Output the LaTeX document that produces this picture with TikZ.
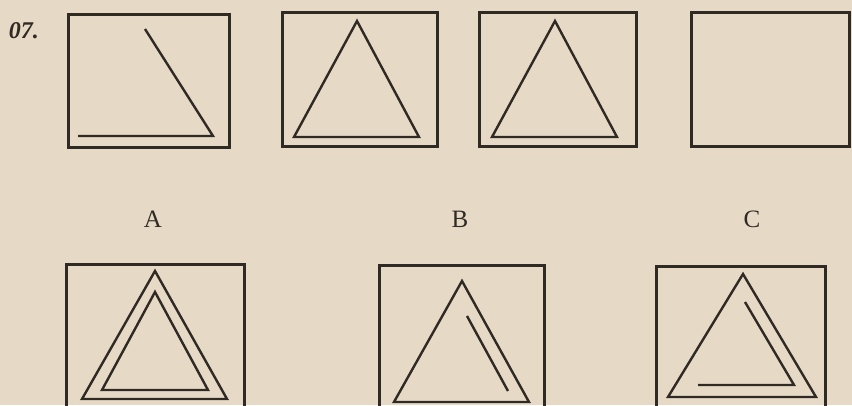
\documentclass[tikz,border=0pt]{standalone}
\usepackage{fontspec}
\setmainfont{Liberation Serif}
\begin{document}
\begin{tikzpicture}[x=1pt,y=-1pt,
  ink/.style={draw=inkc,line width=3pt,line join=miter},
  fig/.style={draw=inkc,line width=2.4pt,line join=miter},
  lbl/.style={font=\fontsize{25}{28}\selectfont,text=inkc,inner sep=0pt},
  num/.style={font=\fontsize{24}{26}\selectfont\bfseries\itshape,text=inkc,inner sep=0pt}]
\definecolor{paper}{RGB}{230,218,198}
\definecolor{inkc}{RGB}{48,42,36}
\useasboundingbox (0,0) rectangle (852,405);
\clip (0,0) rectangle (852,405);
\fill[paper] (0,0) rectangle (852,405);
% number
\node[num] (n) at (24,31) {07.};
% top row
\draw[ink] (68,14) rectangle (229,147);
\coordinate (a1) at (145,29);
\coordinate (a2) at (213,136);
\coordinate (a3) at (78,136);
\draw[fig] (a1) -- (a2) -- (a3);
\draw[ink] (282,12) rectangle (437,146);
\draw[fig] (357,21) -- (419,137) -- (294,137) -- cycle;
\draw[ink] (479,12) rectangle (636,146);
\draw[fig] (555,21) -- (617,137) -- (492,137) -- cycle;
\draw[ink] (691,12) rectangle (849,146);
% labels
\node[lbl] (A) at (153,219) {A};
\node[lbl] (B) at (460,219) {B};
\node[lbl] (C) at (752,219) {C};
% bottom row
\draw[ink] (66,264) rectangle (244,420);
\draw[fig] (155,271) -- (227,399) -- (82,399) -- cycle;
\draw[fig] (155,292) -- (208,390) -- (102,390) -- cycle;
\draw[ink] (379,265) rectangle (544,420);
\draw[fig] (462,281) -- (529,402) -- (394,402) -- cycle;
\draw[fig] (467,316) -- (508,391);
\draw[ink] (656,266) rectangle (825,420);
\draw[fig] (743,274) -- (816,397) -- (668,397) -- cycle;
\draw[fig] (745,302) -- (794,385) -- (698,385);
\end{tikzpicture}
\end{document}
